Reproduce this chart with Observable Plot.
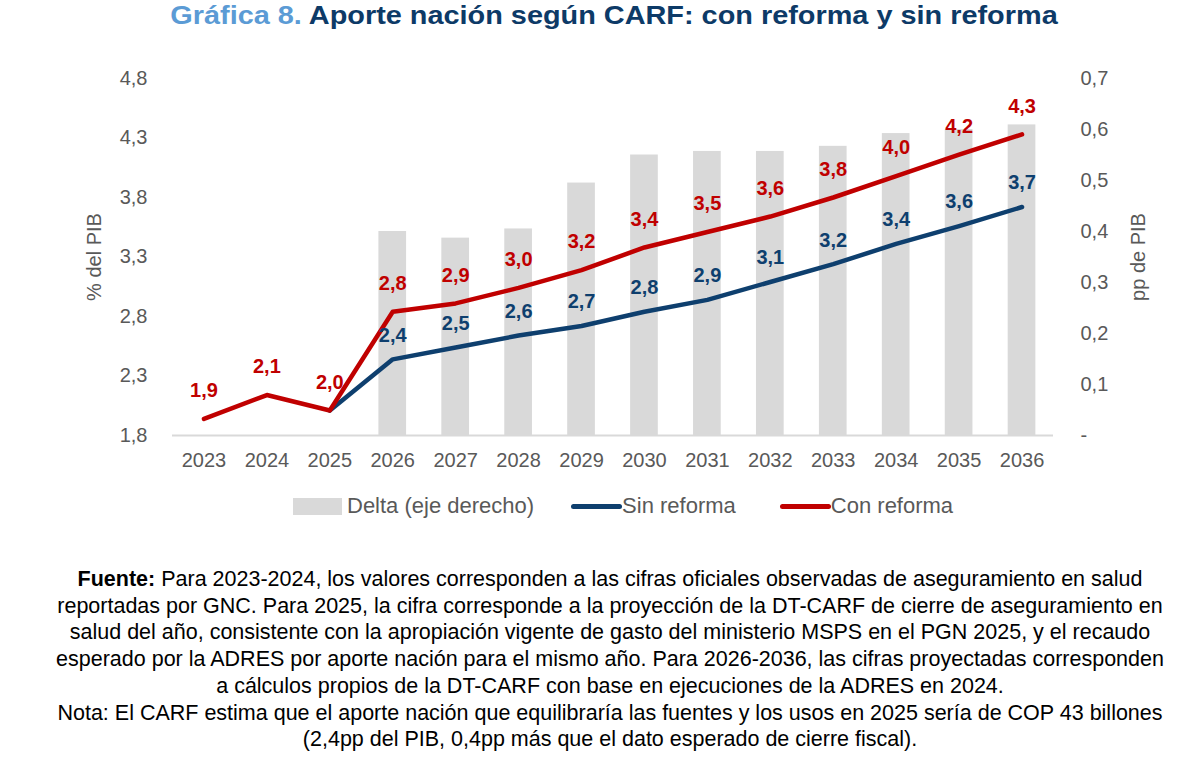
<!DOCTYPE html>
<html>
<head>
<meta charset="utf-8">
<script src="https://cdn.jsdelivr.net/npm/d3@7"></script>
<script src="https://cdn.jsdelivr.net/npm/@observablehq/plot@0.6"></script>
<style>
  html, body { margin: 0; padding: 0; background: #ffffff; }
  body { width: 1199px; height: 779px; overflow: hidden; font-family: "Liberation Sans", Arial, sans-serif; position: relative; }
  #title { position: absolute; left: 0; top: 0; width: 1228px; text-align: center; font-weight: bold; font-size: 26px; line-height: 30px; white-space: nowrap; transform: scaleX(1.11); transform-origin: 614px 15px; }
  #title .num { color: #5B9BD5; }
  #title .main { color: #0D3A67; }
  #chart { position: absolute; left: 0; top: 32px; }
  #legend { position: absolute; left: 293px; top: 492px; height: 28px; display: flex; align-items: center; font-size: 22px; color: #595959; white-space: nowrap; }
  #legend .sw-bar { width: 49px; height: 17px; background: #D9D9D9; margin-right: 5px; }
  #legend .sw-line { width: 51px; height: 5px; border-radius: 3px; }
  #legend .item { display: flex; align-items: center; }
  #caption { position: absolute; left: 22px; top: 566px; width: 1176px; text-align: center; font-size: 21.5px; line-height: 26.7px; color: #000; white-space: nowrap; }
</style>
</head>
<body>
<div id="title"><span class="num">Gráfica 8.</span> <span class="main">Aporte nación según CARF: con reforma y sin reforma</span></div>
<div id="chart"></div>
<div id="legend">
  <div class="item"><div class="sw-bar"></div><span>Delta (eje derecho)</span></div>
  <div class="item" style="margin-left:37px"><div class="sw-line" style="background:#0E3F6E"></div><span>Sin reforma</span></div>
  <div class="item" style="margin-left:44px"><div class="sw-line" style="background:#C00000"></div><span>Con reforma</span></div>
</div>
<div id="caption"><b>Fuente:</b> Para 2023-2024, los valores corresponden a las cifras oficiales observadas de aseguramiento en salud<br>reportadas por GNC. Para 2025, la cifra corresponde a la proyección de la DT-CARF de cierre de aseguramiento en<br>salud del año, consistente con la apropiación vigente de gasto del ministerio MSPS en el PGN 2025, y el recaudo<br>esperado por la ADRES por aporte nación para el mismo año. Para 2026-2036, las cifras proyectadas corresponden<br>a cálculos propios de la DT-CARF con base en ejecuciones de la ADRES en 2024.<br>Nota: El CARF estima que el aporte nación que equilibraría las fuentes y los usos en 2025 sería de COP 43 billones<br>(2,4pp del PIB, 0,4pp más que el dato esperado de cierre fiscal).</div>
<script>
const years = [2023, 2024, 2025, 2026, 2027, 2028, 2029, 2030, 2031, 2032, 2033, 2034, 2035, 2036];
const conReforma = [1.94, 2.14, 2.01, 2.84, 2.91, 3.04, 3.19, 3.38, 3.51, 3.64, 3.80, 3.98, 4.16, 4.33];
const sinReforma = [null, null, 2.01, 2.44, 2.54, 2.64, 2.72, 2.84, 2.94, 3.09, 3.24, 3.41, 3.56, 3.72];
const delta = [null, null, null, 0.40, 0.387, 0.405, 0.495, 0.55, 0.557, 0.557, 0.567, 0.592, 0.60, 0.609];
const leftTicks = [1.8, 2.3, 2.8, 3.3, 3.8, 4.3, 4.8];
const rightTicks = [0, 0.1, 0.2, 0.3, 0.4, 0.5, 0.6, 0.7];

const leftMin = 1.8, leftMax = 4.8, rightMax = 0.7;
const toLeft = v => leftMin + v * (leftMax - leftMin) / rightMax;
const fmt = v => v.toFixed(1).replace(".", ",");

const rows = years.map((yr, i) => ({ year: String(yr), con: conReforma[i], sin: sinReforma[i], delta: delta[i] }));
const bars = rows.filter(d => d.delta != null);
const sinRows = rows.filter(d => d.sin != null);
const sinLabels = sinRows.filter(d => +d.year >= 2026);

const gray = "#595959";
const red = "#C00000";
const blue = "#0E3F6E";

const plot = Plot.plot({
  width: 1199,
  height: 450,
  marginLeft: 172,
  marginRight: 146,
  marginTop: 46,
  marginBottom: 47,
  style: { fontFamily: "Liberation Sans, Arial, sans-serif", background: "transparent", overflow: "visible" },
  x: { type: "band", domain: years.map(String), paddingInner: 0.56, paddingOuter: 0.28, round: false },
  y: { domain: [leftMin, leftMax] },
  marks: [
    Plot.barY(bars, { x: "year", y1: leftMin, y2: d => toLeft(d.delta), fill: "#D9D9D9" }),
    Plot.ruleY([leftMin], { stroke: "#D9D9D9", strokeWidth: 2 }),
    Plot.axisX({ tickSize: 0, tickPadding: 17, fontSize: 20, color: gray, label: null, tickFormat: d => d }),
    Plot.axisY({ ticks: leftTicks, tickSize: 0, tickPadding: 25, fontSize: 20, color: gray, label: null, tickFormat: fmt }),
    Plot.axisY({ anchor: "right", ticks: rightTicks.map(toLeft), tickSize: 0, tickPadding: 27, fontSize: 20, color: gray, label: null, textAnchor: "start",
      tickFormat: d => { const v = Math.round((d - leftMin) * rightMax / (leftMax - leftMin) * 10) / 10; return v === 0 ? "-" : fmt(v); } }),
    Plot.text(["% del PIB"], { frameAnchor: "left", dx: -78, rotate: -90, textAnchor: "middle", fontSize: 20, fill: gray }),
    Plot.text(["pp de PIB"], { frameAnchor: "right", dx: 85, rotate: -90, textAnchor: "middle", fontSize: 20, fill: gray }),
    Plot.line(sinRows, { x: "year", y: "sin", stroke: blue, strokeWidth: 4.5, strokeLinejoin: "round", strokeLinecap: "round" }),
    Plot.line(rows, { x: "year", y: "con", stroke: red, strokeWidth: 4.5, strokeLinejoin: "round", strokeLinecap: "round" }),
    Plot.text(sinLabels, { x: "year", y: "sin", text: d => fmt(d.sin), dy: -24, fontSize: 20, fontWeight: "bold", fill: blue }),
    Plot.text(rows, { x: "year", y: "con", text: d => fmt(d.con), dy: -28, fontSize: 20, fontWeight: "bold", fill: red })
  ]
});
document.getElementById("chart").appendChild(plot);
</script>
</body>
</html>
